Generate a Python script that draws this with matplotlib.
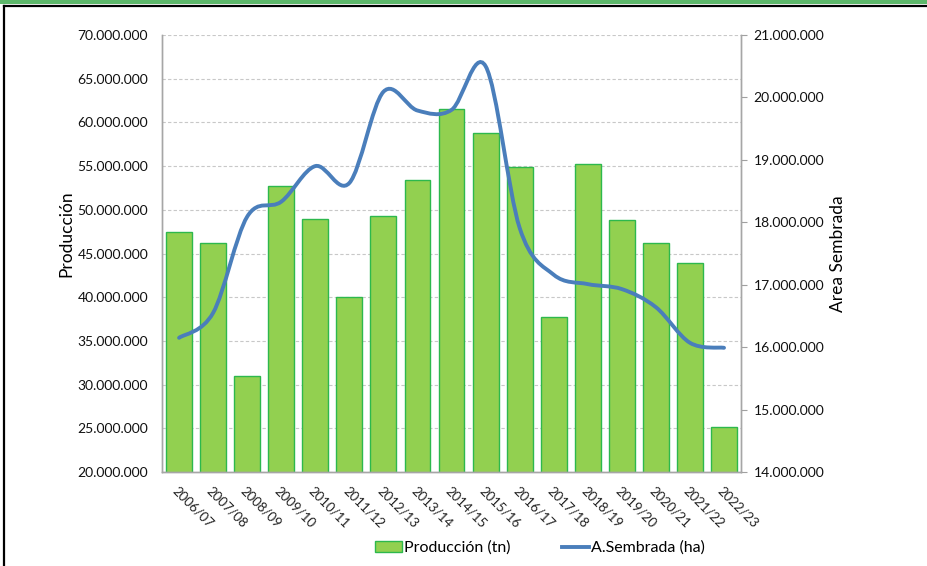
import matplotlib
matplotlib.use('Agg')
import matplotlib.pyplot as plt
import matplotlib.ticker as mticker
from matplotlib.path import Path
from matplotlib.patches import PathPatch, Rectangle
from matplotlib.lines import Line2D
import numpy as np

plt.rcParams['font.family'] = ['Lato', 'DejaVu Sans']

campaigns = ['2006/07', '2007/08', '2008/09', '2009/10', '2010/11', '2011/12',
             '2012/13', '2013/14', '2014/15', '2015/16', '2016/17', '2017/18',
             '2018/19', '2019/20', '2020/21', '2021/22', '2022/23']

# Producción (tn)
produccion = [47.5e6, 46.2e6, 31.0e6, 52.7e6, 48.9e6, 40.0e6, 49.3e6, 53.4e6,
              61.5e6, 58.8e6, 54.9e6, 37.7e6, 55.2e6, 48.8e6, 46.2e6, 43.9e6,
              25.1e6]

# Area sembrada (ha)
area = [16.15e6, 16.55e6, 18.09e6, 18.33e6, 18.90e6, 18.63e6, 20.09e6, 19.79e6,
        19.80e6, 20.50e6, 17.91e6, 17.16e6, 17.01e6, 16.93e6, 16.64e6, 16.07e6,
        15.99e6]

BAR_COLOR = '#92D050'
BAR_EDGE = '#2DB84D'
LINE_COLOR = '#4A7EBB'


def dot_fmt(v, pos=None):
    return f'{int(round(v)):,}'.replace(',', '.')


def smooth_path(xs, ys):
    # Excel-like smoothed line: cubic bezier segments through every point
    pts = np.column_stack([xs, ys])
    n = len(pts)
    verts = [pts[0]]
    codes = [Path.MOVETO]
    for i in range(n - 1):
        p0 = pts[i - 1] if i > 0 else pts[i]
        p1 = pts[i]
        p2 = pts[i + 1]
        p3 = pts[i + 2] if i + 2 < n else pts[i + 1]
        c1 = p1 + (p2 - p0) / 6.0
        c2 = p2 - (p3 - p1) / 6.0
        verts += [c1, c2, p2]
        codes += [Path.CURVE4] * 3
    return Path(verts, codes)


fig = plt.figure(figsize=(9.27, 5.66), dpi=100)
ax = fig.add_axes([0.1748, 0.166, 0.6246, 0.7722])
ax2 = ax.twinx()

x = np.arange(len(campaigns))
ax.bar(x, produccion, width=0.76, color=BAR_COLOR, edgecolor=BAR_EDGE,
       linewidth=1.0, zorder=2)

ax.set_xlim(-0.5, len(campaigns) - 0.5)
ax.set_ylim(20e6, 70e6)
ax.yaxis.set_major_locator(mticker.MultipleLocator(5e6))
ax.yaxis.set_major_formatter(mticker.FuncFormatter(dot_fmt))
ax.grid(True, axis='y', color='#C8C8C8', linestyle=(0, (3, 2)), linewidth=0.8, zorder=0)
ax.set_axisbelow(True)
ax.set_xticks(x)
ax.set_xticklabels(campaigns, rotation=-45, ha='left', va='top',
                   rotation_mode='anchor', fontsize=9.5, color='#222222')
ax.tick_params(axis='x', length=0, pad=9)
ax.tick_params(axis='y', length=0, pad=10, labelsize=10, labelcolor='#111111')
ax.set_ylabel('Producción', fontsize=12.5, labelpad=2)
ax.yaxis.label.set_y(0.545)

path = smooth_path(x.astype(float), np.array(area))
ax2.add_patch(PathPatch(path, facecolor='none', edgecolor=LINE_COLOR,
                        linewidth=2.8, capstyle='round', zorder=3))
ax2.set_ylim(14e6, 21e6)
ax2.yaxis.set_major_locator(mticker.MultipleLocator(1e6))
ax2.yaxis.set_major_formatter(mticker.FuncFormatter(dot_fmt))
ax2.tick_params(axis='y', length=4, width=0.8, color='#A0A0A0', pad=5,
                labelsize=10, labelcolor='#111111')
ax2.set_ylabel('Area Sembrada', fontsize=12.5, labelpad=4)

for a in (ax, ax2):
    for s in a.spines.values():
        s.set_color('#A6A6A6')
        s.set_linewidth(1.0)
ax.spines['top'].set_visible(False)
ax2.spines['top'].set_visible(False)

# legend
handles = [Rectangle((0, 0), 1, 1, facecolor=BAR_COLOR, edgecolor=BAR_EDGE),
           Line2D([0], [0], color=LINE_COLOR, linewidth=2.8)]
fig.legend(handles, ['Producción (tn)', 'A.Sembrada (ha)'], loc='center',
           bbox_to_anchor=(540 / 927, 1 - 548 / 566), ncol=2, frameon=False,
           fontsize=11.5, handlelength=1.7, handletextpad=0.15, columnspacing=3.2)

# frame of the surrounding panel
fig.add_artist(Rectangle((0, 1 - 4 / 566), 1, 4 / 566, transform=fig.transFigure,
                         facecolor='#5DB86B', edgecolor='none'))
fig.add_artist(Line2D([4 / 927, 1], [1 - 5.5 / 566, 1 - 5.5 / 566],
                      transform=fig.transFigure, color='black', linewidth=1.6))
fig.add_artist(Line2D([4 / 927, 4 / 927], [0, 1 - 5.5 / 566],
                      transform=fig.transFigure, color='black', linewidth=1.6))

fig.savefig('out.png', dpi=100)
